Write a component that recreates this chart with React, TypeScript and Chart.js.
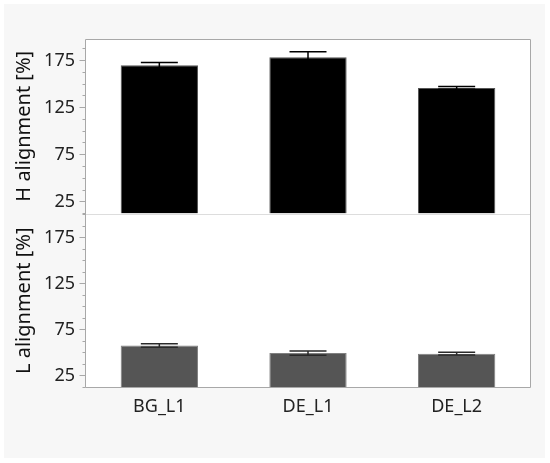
import React, { useEffect, useRef } from 'react';
import { Chart, registerables } from 'chart.js';

Chart.register(...registerables);

const categories = ['BG_L1', 'DE_L1', 'DE_L2'];
const hValues = [169.5, 178, 145.5];
const hErrors = [3, 6, 1.5];
const lValues = [57.3, 49, 48.4];
const lErrors = [2, 2.3, 1.6];
const yTickLabels = [25, 75, 125, 175];
const yMinorTicks = [12.5, 37.5, 50, 62.5, 87.5, 100, 112.5, 137.5, 150, 162.5, 187.5, 200];
const hRange = [12, 197.5];
const lRange = [11, 201];
const hTitle = 'H alignment [%]';
const lTitle = 'L alignment [%]';

const FONT = '"Noto Sans", "Open Sans", sans-serif';

const panelPlugin = {
  id: 'panelPlugin',
  beforeDraw(chart: any) {
    const { ctx, chartArea: a } = chart;
    ctx.save();
    ctx.fillStyle = '#ffffff';
    ctx.fillRect(0, 0, chart.width, chart.height);
    ctx.fillStyle = '#f7f7f7';
    ctx.fillRect(4, 4, 541, 454);
    ctx.fillStyle = '#ffffff';
    ctx.fillRect(a.left, a.top, a.right - a.left, a.bottom - a.top);
    ctx.restore();
  },
  afterDatasetsDraw(chart: any) {
    const { ctx, chartArea: a } = chart;
    const xs = chart.scales.x;
    const yH = chart.scales.yH;
    const yL = chart.scales.yL;
    ctx.save();
    // error bars
    const drawErr = (scale: any, vals: number[], errs: number[], color: string) => {
      ctx.strokeStyle = color;
      ctx.lineWidth = 1.5;
      vals.forEach((v, i) => {
        const x = xs.getPixelForValue(i);
        const yTop = scale.getPixelForValue(v + errs[i]);
        const yBot = scale.getPixelForValue(v - errs[i]);
        ctx.beginPath();
        ctx.moveTo(x, yTop);
        ctx.lineTo(x, yBot);
        ctx.moveTo(x - 18.5, yTop);
        ctx.lineTo(x + 18.5, yTop);
        ctx.moveTo(x - 18.5, yBot);
        ctx.lineTo(x + 18.5, yBot);
        ctx.stroke();
      });
    };
    drawErr(yH, hValues, hErrors, '#000000');
    drawErr(yL, lValues, lErrors, '#2a2a2a');

    // divider
    const divY = Math.round(yH.bottom) + 0.5;
    ctx.strokeStyle = '#dddddd';
    ctx.lineWidth = 1;
    ctx.beginPath();
    ctx.moveTo(a.left, divY);
    ctx.lineTo(a.right, divY);
    ctx.stroke();

    // frame
    ctx.strokeStyle = '#a8a8a8';
    ctx.beginPath();
    ctx.moveTo(Math.round(a.left) + 0.5, Math.round(a.top) + 0.5);
    ctx.lineTo(Math.round(a.right) - 0.5, Math.round(a.top) + 0.5);
    ctx.lineTo(Math.round(a.right) - 0.5, Math.round(a.bottom) - 0.5);
    ctx.lineTo(Math.round(a.left) + 0.5, Math.round(a.bottom) - 0.5);
    ctx.closePath();
    ctx.stroke();

    // y ticks & labels
    const axX = Math.round(a.left) + 0.5;
    const drawAxis = (scale: any, title: string) => {
      ctx.strokeStyle = '#a8a8a8';
      ctx.lineWidth = 1;
      yMinorTicks.forEach((t) => {
        if (t < scale.min || t > scale.max) return;
        const y = Math.round(scale.getPixelForValue(t)) + 0.5;
        ctx.beginPath();
        ctx.moveTo(axX - 3, y);
        ctx.lineTo(axX, y);
        ctx.stroke();
      });
      ctx.fillStyle = '#222222';
      ctx.font = `18px ${FONT}`;
      ctx.textAlign = 'right';
      ctx.textBaseline = 'middle';
      yTickLabels.forEach((t) => {
        const y = Math.round(scale.getPixelForValue(t)) + 0.5;
        ctx.beginPath();
        ctx.moveTo(axX - 6, y);
        ctx.lineTo(axX, y);
        ctx.stroke();
        ctx.fillText(String(t), 75, y + 0.5);
      });
      ctx.save();
      ctx.translate(24, (scale.top + scale.bottom) / 2);
      ctx.rotate(-Math.PI / 2);
      ctx.textAlign = 'center';
      ctx.textBaseline = 'middle';
      ctx.font = `20px ${FONT}`;
      ctx.fillStyle = '#111111';
      ctx.fillText(title, 0, 0);
      ctx.restore();
    };
    drawAxis(yH, hTitle);
    drawAxis(yL, lTitle);

    // x labels
    ctx.fillStyle = '#222222';
    ctx.font = `18px ${FONT}`;
    ctx.textAlign = 'center';
    ctx.textBaseline = 'middle';
    categories.forEach((c, i) => {
      ctx.fillText(c, xs.getPixelForValue(i), a.bottom + 19);
    });
    ctx.restore();
  },
};

export default function App() {
  const ref = useRef<HTMLCanvasElement | null>(null);
  useEffect(() => {
    document.body.style.margin = '0';
    const canvas = ref.current;
    if (!canvas) return;
    const chart = new Chart(canvas, {
      type: 'bar',
      data: {
        labels: categories,
        datasets: [
          {
            label: 'H',
            data: hValues,
            yAxisID: 'yH',
            backgroundColor: '#000000',
            borderColor: '#555555',
            borderWidth: 1,
            base: hRange[0],
            grouped: false,
            barPercentage: 0.52,
            categoryPercentage: 1,
          } as any,
          {
            label: 'L',
            data: lValues,
            yAxisID: 'yL',
            backgroundColor: '#555555',
            borderColor: '#808080',
            borderWidth: 1,
            base: lRange[0],
            grouped: false,
            barPercentage: 0.52,
            categoryPercentage: 1,
          } as any,
        ],
      },
      options: {
        animation: false,
        responsive: false,
        maintainAspectRatio: false,
        devicePixelRatio: 1,
        layout: { padding: { left: 0, right: 19, top: 39, bottom: 0 } },
        plugins: { legend: { display: false }, tooltip: { enabled: false } },
        scales: {
          x: {
            grid: { display: false },
            border: { display: false },
            ticks: { display: false },
            afterFit: (s: any) => {
              s.height = 75;
            },
          },
          yL: {
            type: 'linear',
            position: 'left',
            stack: 'panels',
            stackWeight: 1,
            min: lRange[0],
            max: lRange[1],
            grid: { display: false },
            border: { display: false },
            ticks: { display: false },
            afterFit: (s: any) => {
              s.width = 85;
            },
          },
          yH: {
            type: 'linear',
            position: 'left',
            stack: 'panels',
            stackWeight: 1,
            min: hRange[0],
            max: hRange[1],
            grid: { display: false },
            border: { display: false },
            ticks: { display: false },
            afterFit: (s: any) => {
              s.width = 85;
            },
          },
        },
      } as any,
      plugins: [panelPlugin],
    });
    return () => chart.destroy();
  }, []);
  return <canvas ref={ref} width={550} height={463} style={{ display: 'block' }} />;
}
